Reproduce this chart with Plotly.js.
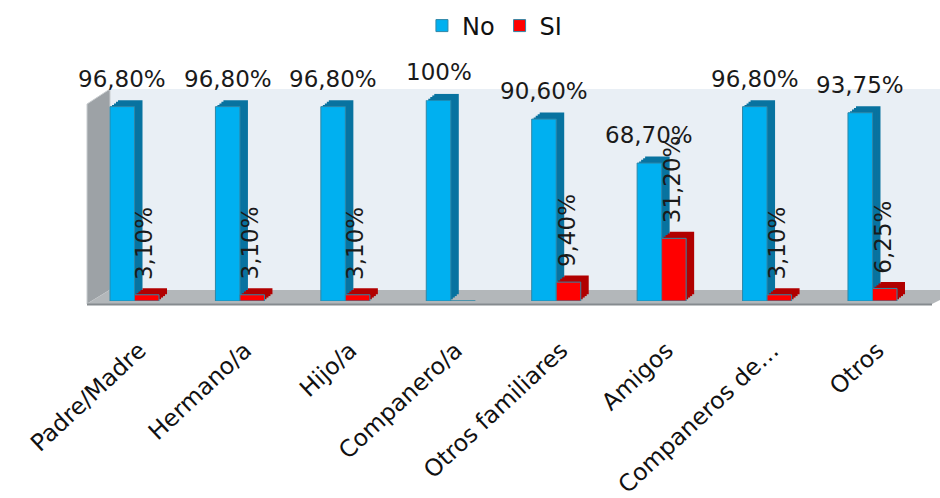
<!DOCTYPE html>
<html>
<head>
<meta charset="utf-8">
<script src="https://cdn.plot.ly/plotly-3.0.1.min.js"></script>
<style>
  html, body { margin: 0; padding: 0; background: #ffffff; }
  #chart { width: 940px; height: 498px; }
</style>
</head>
<body>
<div id="chart"></div>
<script>
// Categories and the two answer series (percentages)
const categories = ['Padre/Madre', 'Hermano/a', 'Hijo/a', 'Companero/a',
                    'Otros familiares', 'Amigos', 'Companeros de\u2026', 'Otros'];
const noValues = [96.8, 96.8, 96.8, 100, 90.6, 68.7, 96.8, 93.75];
const siValues = [3.1, 3.1, 3.1, 0, 9.4, 31.2, 3.1, 6.25];
const seriesNames = ['No', 'SI'];

// Figure geometry (pixels)
const W = 940, H = 498;
const px = v => v / W;          // pixel x -> paper fraction
const py = v => 1 - v / H;      // pixel y (from top) -> paper fraction

const plotLeft = 81.8, plotRight = 925.2;   // front plane of the category axis
const plotBottom = 301, plotTop = 100.2;    // 0% and 100% on the front plane
const depthX = 8, depthY = 6.5;             // extrusion of the 3-D bars
const layers = 4;                            // slices used to build the extrusion

const colors = {
  noFront: '#00b0f0', noSide: '#0873a0',
  siFront: '#ff0000', siSide: '#b10000',
  edge: '#2f86a6'
};

function fmt(v) {
  if (v === 100) return '100%';
  return v.toFixed(2).replace('.', ',') + '%';
}

const traces = [];
const layout = {
  width: W, height: H,
  margin: {l: 0, r: 0, t: 0, b: 0},
  paper_bgcolor: '#ffffff',
  plot_bgcolor: 'rgba(0,0,0,0)',
  barmode: 'group',
  bargap: 0.535,
  bargroupgap: 0,
  showlegend: true,
  legend: {
    orientation: 'h', x: 0.526, xanchor: 'center', y: py(26), yanchor: 'middle',
    font: {family: 'DejaVu Sans', size: 24, color: '#111111'},
    bgcolor: 'rgba(0,0,0,0)'
  },
  font: {family: 'DejaVu Sans'},
  shapes: [],
  annotations: []
};

// Extrusion slices, farthest first, then the front faces on top
const axisCount = layers + 1;
for (let i = 0; i < axisCount; i++) {
  const k = layers - i;                 // k = shift multiplier (0 = front)
  const ox = depthX * k / layers, oy = depthY * k / layers;
  const id = i === 0 ? '' : String(i + 1);
  const xa = 'xaxis' + id, ya = 'yaxis' + id;
  const isFront = k === 0;
  layout[xa] = {
    domain: [px(plotLeft + ox), px(plotRight + ox)],
    anchor: 'y' + id,
    type: 'category',
    range: [-0.5, categories.length - 0.5],
    showgrid: false, zeroline: false, showline: false, ticks: '',
    showticklabels: isFront, fixedrange: true
  };
  layout[ya] = {
    domain: [py(plotBottom) + oy / H, py(plotTop) + oy / H],
    anchor: 'x' + id,
    range: [0, 100],
    showgrid: false, zeroline: false, showline: false, ticks: '',
    showticklabels: false, fixedrange: true
  };
  if (isFront) {
    Object.assign(layout[xa], {
      tickangle: -43,
      tickfont: {family: 'DejaVu Sans', size: 23.5, color: '#111111'},
      ticklabelstandoff: 30,
      ticklabelshift: 5
    });
  }
  [noValues, siValues].forEach((vals, s) => {
    traces.push({
      type: 'bar',
      name: seriesNames[s],
      x: categories,
      y: vals,
      xaxis: 'x' + id,
      yaxis: 'y' + id,
      showlegend: isFront,
      hoverinfo: 'skip',
      marker: {
        color: isFront ? (s === 0 ? colors.noFront : colors.siFront)
                       : (s === 0 ? colors.noSide : colors.siSide),
        line: {color: colors.edge, width: isFront ? 1 : 0}
      }
    });
  });
}

// Value labels on the front axes
const frontX = 'x' + axisCount, frontY = 'y' + axisCount;
const halfBar = (plotRight - plotLeft) / categories.length * (1 - 0.535) / 4;
categories.forEach((c, i) => {
  layout.annotations.push({
    x: c, y: noValues[i], xref: frontX, yref: frontY,
    text: fmt(noValues[i]), showarrow: false,
    xshift: -halfBar, yshift: 13, yanchor: 'bottom',
    font: {family: 'DejaVu Sans', size: 23, color: '#1a1a1a'}
  });
  if (siValues[i] > 0) {
    layout.annotations.push({
      x: c, y: siValues[i], xref: frontX, yref: frontY,
      text: fmt(siValues[i]), showarrow: false, textangle: -90,
      xshift: halfBar - 2, yshift: 13, yanchor: 'bottom',
      font: {family: 'DejaVu Sans', size: 23, color: '#1a1a1a'}
    });
  }
});

// Walls and floor of the 3-D box
const path = pts => 'M' + pts.map(p => px(p[0]) + ',' + py(p[1])).join('L') + 'Z';
layout.shapes.push(
  {type: 'rect', xref: 'paper', yref: 'paper', layer: 'below',
   x0: px(110), x1: 1, y0: py(290), y1: py(89),
   fillcolor: '#e9eff5', line: {width: 0}},
  {type: 'path', xref: 'paper', yref: 'paper', layer: 'below',
   path: path([[87, 104], [110, 89], [110, 290], [87, 304]]),
   fillcolor: '#9da2a6', line: {color: '#c9cdd0', width: 1}},
  {type: 'path', xref: 'paper', yref: 'paper', layer: 'below',
   path: path([[110, 290], [960, 290], [932, 304], [87, 304]]),
   fillcolor: '#b3b7ba', line: {width: 0}},
  {type: 'line', xref: 'paper', yref: 'paper', layer: 'below',
   x0: px(87), x1: px(932), y0: py(304.5), y1: py(304.5),
   line: {color: '#868b8f', width: 2}}
);

Plotly.newPlot('chart', traces, layout, {displayModeBar: false, staticPlot: true});
</script>
</body>
</html>
